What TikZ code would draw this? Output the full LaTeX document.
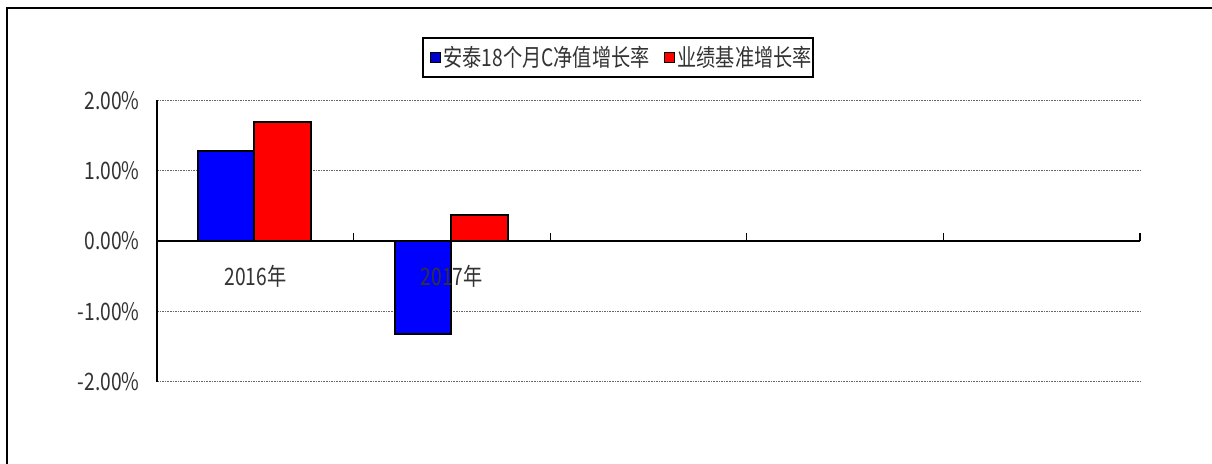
\documentclass[tikz,border=0pt]{standalone}
\usepackage{fontspec}
\setmainfont[FakeStretch=0.8]{Noto Sans CJK SC}

\begin{document}
\begin{tikzpicture}[x=0.5pt,y=0.5pt,
    lbl/.style={font=\fontsize{12}{13}\selectfont,text=black!80,inner sep=0pt},
    bar/.style={draw=black,line width=0.8pt},
    grid/.style={black!60,line width=0.6pt,dash pattern=on 0.8pt off 0.5pt}]
      \useasboundingbox (0,0) rectangle (1212,464);
      \fill[white] (0,0) rectangle (1212,464);
      % outer frame
      \draw[line width=1pt] (7,0) -- (7,456) -- (1212,456);

      % legend
      \draw[line width=0.6pt] (423,387) rectangle (813,426);
      \draw[fill=blue!80!black,line width=0.5pt] (430,401) rectangle ++(10,10);
      \node[lbl,anchor=west] (lgA) at (443,406.5) {安泰18个月C净值增长率};
      \draw[fill=red,line width=0.5pt] (664,401) rectangle ++(10,10);
      \node[lbl,anchor=west] (lgB) at (677,406.5) {业绩基准增长率};

      \begin{scope}[shift={(157,223)},y=35.15pt]
      % grid lines
      \draw[grid] (0,2) -- (983,2);
      \draw[grid] (0,1) -- (983,1);
      \draw[grid] (0,-1) -- (983,-1);
      \draw[grid] (0,-2) -- (983,-2);

      % bars
      \draw[bar,fill=blue] (41,0) rectangle (97,1.28);
      \draw[bar,fill=red] (97,0) rectangle (154,1.69);
      \draw[bar,fill=blue] (238,0) rectangle (294,-1.32);
      \draw[bar,fill=red] (294,0) rectangle (351,0.37);

      % axes
      \draw[line width=0.8pt] (0,-2) -- (0,2);
      \draw[line width=0.8pt] (0,0) -- (983,0);
      \foreach \i in {1,...,5}
        \draw[line width=0.6pt] (196.6*\i,0) -- ++(0,0.11);

      \node[lbl,anchor=east] (y2) at (-17,2) {2.00\%};
      \node[lbl,anchor=east] (y1) at (-17,1) {1.00\%};
      \node[lbl,anchor=east] (y0) at (-17,0) {0.00\%};
      \node[lbl,anchor=east] (ym1) at (-17,-1) {-1.00\%};
      \node[lbl,anchor=east] (ym2) at (-17,-2) {-2.00\%};

      \node[lbl] (c16) at (98.3,-0.5) {2016年};
      \node[lbl] (c17) at (294.9,-0.5) {2017年};
      \end{scope}
    \end{tikzpicture}
\end{document}
